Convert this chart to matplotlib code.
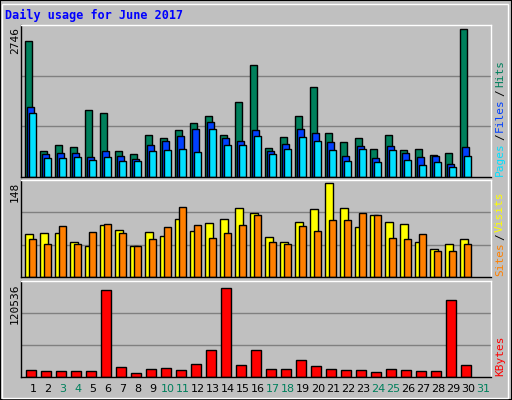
import matplotlib
matplotlib.use("Agg")
import matplotlib.pyplot as plt
from matplotlib.patches import Rectangle
import numpy as np

days = list(range(1, 31))
day_labels = [str(d) for d in range(1, 32)]
weekend = [3, 4, 10, 11, 17, 18, 24, 25, 31]
hits = [2450, 477, 585, 549, 1219, 1165, 477, 422, 766, 712, 857, 984, 1110, 766, 1346,
        2016, 531, 730, 1110, 1617, 803, 640, 712, 513, 766, 495, 513, 404, 441, 2667]
files = [1273, 422, 441, 441, 368, 477, 386, 332, 585, 658, 748, 875, 1002, 712, 658,
         857, 477, 604, 875, 803, 640, 386, 567, 350, 567, 441, 368, 386, 241, 549]
pages = [1165, 350, 350, 368, 314, 368, 296, 296, 477, 495, 513, 459, 875, 585, 585,
         748, 422, 513, 730, 658, 495, 296, 513, 278, 495, 314, 223, 278, 187, 386]
visits = [65, 67, 67, 53, 47, 79, 72, 47, 69, 62, 89, 70, 83, 89, 106,
          97, 61, 53, 84, 103, 143, 106, 76, 95, 84, 81, 54, 42, 50, 58]
sites = [58, 51, 78, 51, 69, 81, 67, 47, 58, 76, 107, 79, 59, 67, 79,
         95, 54, 50, 78, 70, 87, 87, 98, 95, 59, 58, 65, 40, 40, 50]
kbytes = [8900, 7700, 7700, 7700, 7700, 108800, 12600, 5300, 10100, 11400, 8900, 16200, 34500, 111200, 15000,
          33300, 10100, 10100, 21100, 13800, 10100, 8900, 8900, 6500, 10100, 8900, 7700, 7700, 96600, 15000]
max_hits, max_visits, max_kb = 2746, 148, 120536

W, H = 512, 400
fig = plt.figure(figsize=(5.12, 4.0), dpi=100, facecolor="#C0C0C0")
mono = "DejaVu Sans Mono"

fig.patches.append(Rectangle((0, 0), 1, 1, transform=fig.transFigure, fill=False, ec="black", lw=1.5))
fig.patches.append(Rectangle((2/W, 2/H), 1-6/W, 1-6/H, transform=fig.transFigure, fill=False, ec="white", lw=1))

def make_ax(y0, y1):
    ax = fig.add_axes([21/W, 1-y1/H, 470/W, (y1-y0)/H])
    ax.set_facecolor("#C0C0C0")
    ax.set_xlim(0.2, 31.53)
    ax.set_xticks([]); ax.set_yticks([])
    for s in ax.spines.values():
        s.set_color("black"); s.set_linewidth(1)
    ax.spines["top"].set_color("white"); ax.spines["right"].set_color("white")
    return ax

x = np.array(days, dtype=float)
ek = dict(edgecolor="black", linewidth=1, align="edge")

ax1 = make_ax(25, 177)
ax1.set_ylim(0, max_hits)
for g in (max_hits/3, 2*max_hits/3):
    ax1.axhline(g, color="#808080", lw=1, zorder=0)
ax1.bar(x-0.51, hits, width=0.47, color="#00805C", **ek)
ax1.bar(x-0.38, files, width=0.47, color="#0040FF", **ek)
ax1.bar(x-0.25, pages, width=0.47, color="#00E0FF", **ek)

ax2 = make_ax(180, 277)
ax2.set_ylim(0, max_visits)
for g in (max_visits/3, 2*max_visits/3):
    ax2.axhline(g, color="#808080", lw=1, zorder=0)
ax2.bar(x-0.51, visits, width=0.53, color="#FFFF00", **ek)
ax2.bar(x-0.25, sites, width=0.47, color="#FF8000", **ek)

ax3 = make_ax(281, 377)
ax3.set_ylim(0, max_kb)
for g in (max_kb/3, 2*max_kb/3):
    ax3.axhline(g, color="#808080", lw=1, zorder=0)
ax3.bar(x-0.45, kbytes, width=0.67, color="#FF0000", **ek)

fig.text(5/W, 1-15/H, "Daily usage for June 2017", color="#0000FF", fontsize=8.5,
         fontweight="bold", family=mono, va="center")

for txt, ytop in ((str(max_hits), 27), (str(max_visits), 182), (str(max_kb), 283)):
    fig.text(15/W, 1-ytop/H, txt, rotation=90, fontsize=8, family=mono, ha="center", va="top")

renderer = fig.canvas.get_renderer()
def vlegend(parts, ybottom):
    y = ybottom
    for t, c in parts:
        tt = fig.text(500/W, 1-y/H, t, rotation=90, color=c, fontsize=8, family=mono,
                      ha="center", va="bottom")
        bb = tt.get_window_extent(renderer)
        y -= bb.height + 2
vlegend([("Pages", "#00E0FF"), ("/", "#000000"), ("Files", "#0040FF"), ("/", "#000000"), ("Hits", "#00805C")], 176)
vlegend([("Sites", "#FF8000"), ("/", "#000000"), ("Visits", "#FFFF00")], 276)
vlegend([("KBytes", "#FF0000")], 376)

for i, lab in enumerate(day_labels):
    d = i + 1
    col = "#00805C" if d in weekend else "black"
    fig.text((33 + i*15)/W, 1-389/H, lab, color=col, fontsize=8, family="DejaVu Sans", ha="center", va="center")

fig.savefig("out.png", dpi=100, facecolor=fig.get_facecolor())
